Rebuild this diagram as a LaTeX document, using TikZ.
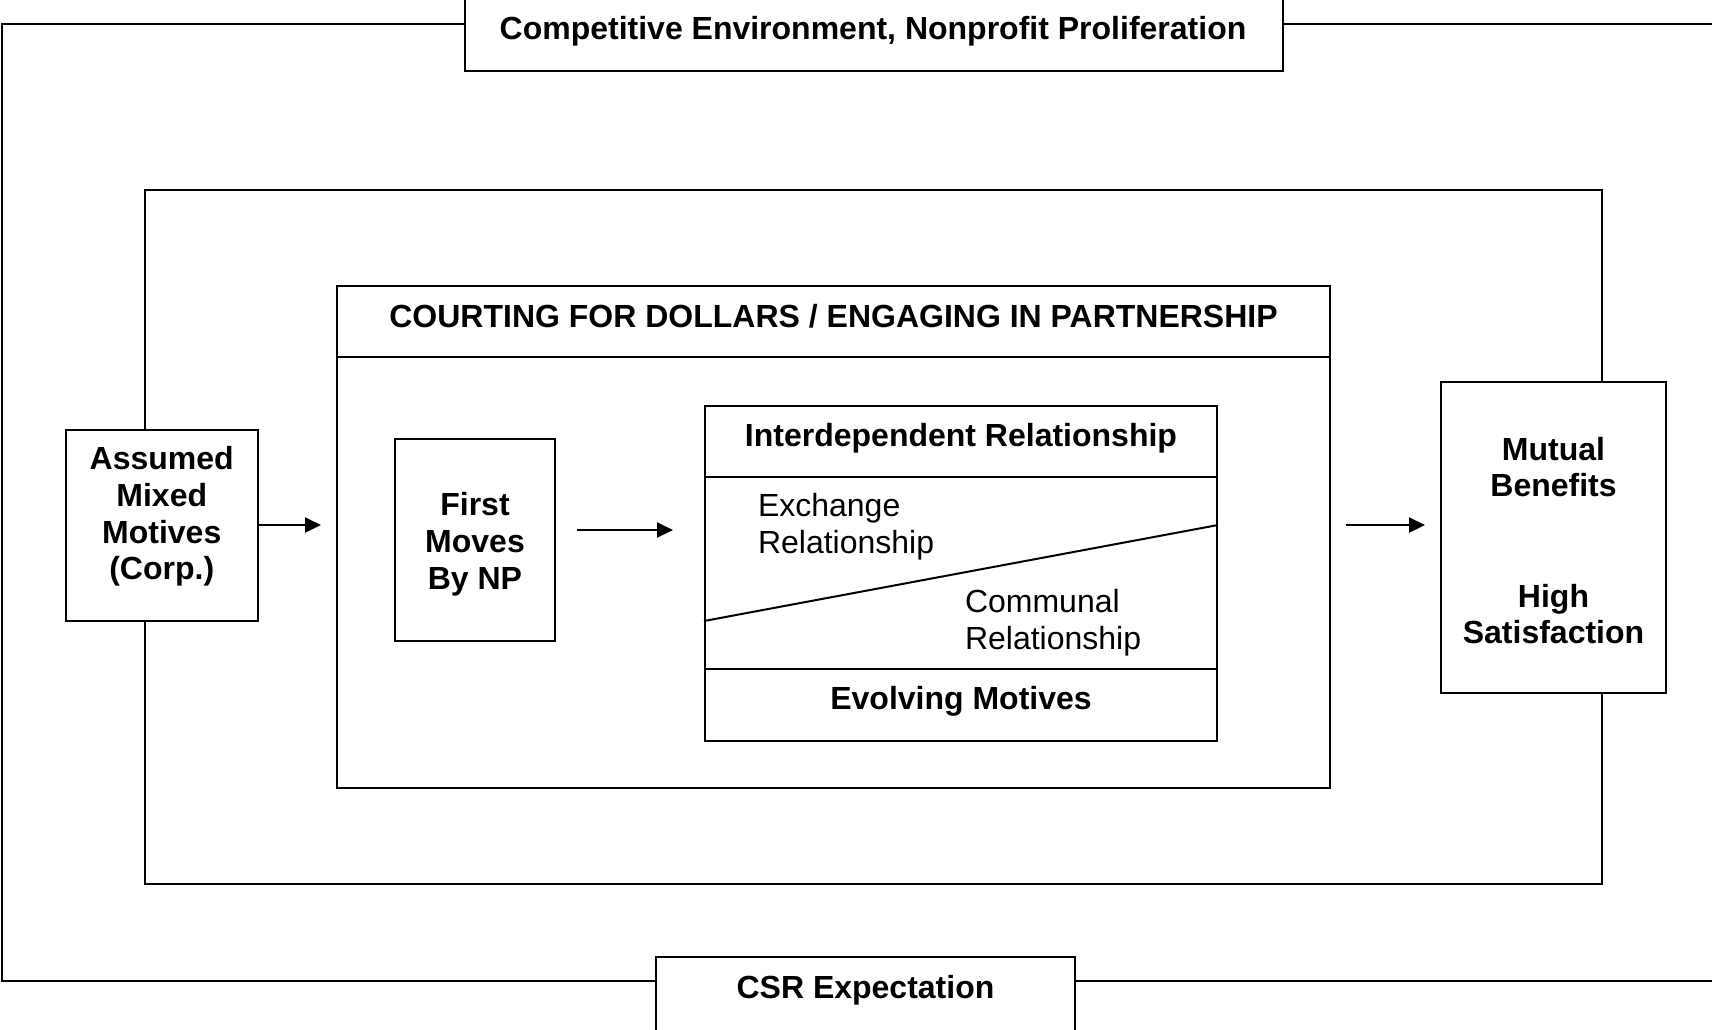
\documentclass[tikz,border=0pt]{standalone}
\usepackage{fontspec}
\setmainfont{Liberation Sans}
\usetikzlibrary{arrows.meta}
\begin{document}
\begin{tikzpicture}[x=0.5pt,y=-0.5pt,
  line width=1pt,
  box/.style={draw, line width=1pt, fill=white, inner sep=0pt},
  hidden/.style={inner sep=0pt},
  lbl/.style={font=\fontsize{16}{18.4}\selectfont\bfseries, align=center, inner sep=0pt},
  plain/.style={font=\fontsize{16}{18.4}\selectfont, align=left, inner sep=0pt, anchor=west},
  flow/.style={-{Triangle[length=8pt,width=7.5pt]}, line width=1pt},
]
\useasboundingbox (0,0) rectangle (1712,1029);

% corners of the outer frame (its right side runs past the page)
\coordinate (otl) at (2,24);
\coordinate (obl) at (2,981);
\coordinate (otr) at (1712,24);
\coordinate (obr) at (1712,981);

% environment box at the top, open at the page edge
\node[hidden, minimum width=408pt, minimum height=35pt] (env) at (874,35) {};
\draw (env.north west) -- (env.south west) -- (env.south east) -- (env.north east);
\node[lbl] (envtext) at (873,31) {Competitive Environment, Nonprofit Proliferation};

% CSR box at the bottom, open at the page edge
\node[hidden, minimum width=208.5pt, minimum height=35.75pt] (csr) at (865.5,993.25) {};
\draw (csr.south west) -- (csr.north west) -- (csr.north east) -- (csr.south east);
\node[lbl] (csrtext) at (865.5,990.5) {CSR Expectation};

% outer frame
\draw (env.south west |- otl) -- (otl) -- (obl) -- (csr.north west |- obl);
\draw (env.south east |- otr) -- (otr);
\draw (csr.north east |- obr) -- (obr);

% middle frame
\node[box, fill=none, minimum width=728.5pt, minimum height=347pt] (mid) at (873.5,537) {};

% side boxes
\node[box, minimum width=96.25pt, minimum height=95.5pt] (left) at (161.75,525.5) {};
\node[lbl] (lefttext) at (161.75,516.5) {Assumed\\Mixed\\Motives\\(Corp.)};

\node[box, minimum width=112.5pt, minimum height=155.5pt] (right) at (1553.5,537.5) {};
\node[lbl] (righttop) at (1553.5,467) {Mutual\\Benefits};
\node[lbl] (rightbot) at (1553.5,614) {High\\Satisfaction};

% courting box with its header band
\node[box, minimum width=496.5pt, minimum height=251pt] (court) at (833.5,537) {};
\draw (court.west |- 0,357) -- (court.east |- 0,357);
\node[lbl] (courttext) at (833.5,316) {COURTING FOR DOLLARS / ENGAGING IN PARTNERSHIP};

% first moves
\node[box, minimum width=80pt, minimum height=101pt] (first) at (475,540) {};
\node[lbl] (firsttext) at (475,544.5) {First\\Moves\\By NP};

% interdependent relationship box
\node[box, minimum width=256pt, minimum height=167.5pt] (inter) at (961,573.5) {};
\draw (inter.west |- 0,477) -- (inter.east |- 0,477);
\draw (inter.west |- 0,669) -- (inter.east |- 0,669);
\draw (inter.west |- 0,621) -- (inter.east |- 0,525);
\node[lbl] (intertext) at (961,438.5) {Interdependent Relationship};
\node[lbl] (evoltext) at (961,701.5) {Evolving Motives};
\node[plain] (exch) at (757,527) {Exchange\\Relationship};
\node[plain] (comm) at (964,623) {Communal\\Relationship};

% flow arrows
\draw[flow, shorten >=7.5pt] (left.east |- 0,525) -- (court.west |- 0,525);
\draw[flow, shorten <=10.5pt, shorten >=15.5pt] (first.east |- 0,530) -- (inter.west |- 0,530);
\draw[flow, shorten <=7.5pt, shorten >=7.5pt] (court.east |- 0,525) -- (right.west |- 0,525);
\end{tikzpicture}
\end{document}
